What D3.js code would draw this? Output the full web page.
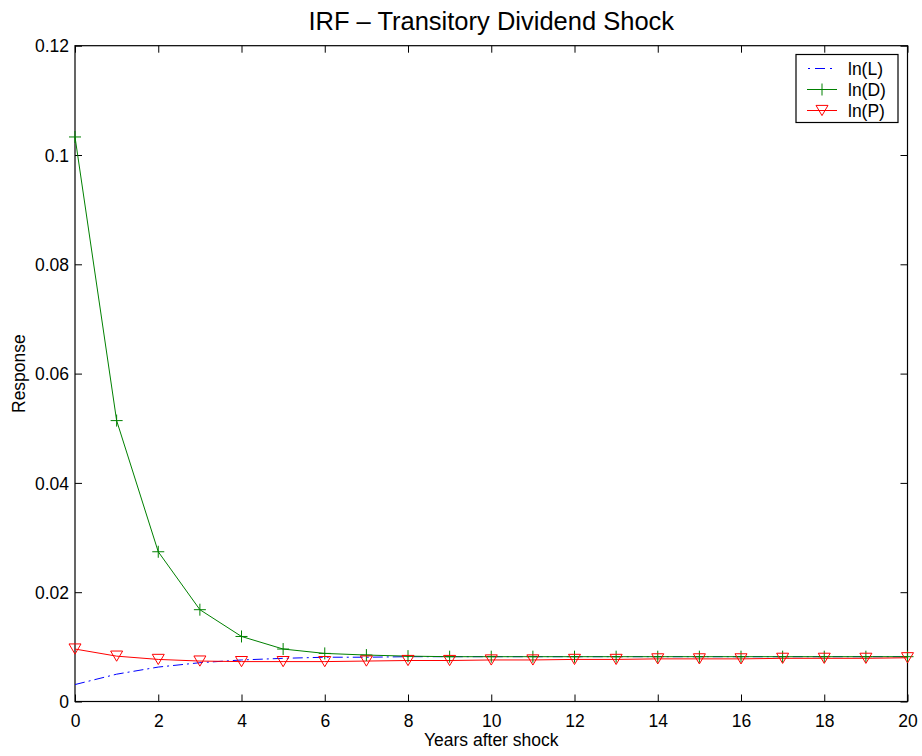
<!DOCTYPE html>
<html><head><meta charset="utf-8">
<script src="https://cdn.jsdelivr.net/npm/d3@7"></script>
<style>body{margin:0;background:#fff;} text{font-family:"Liberation Sans",Arial,sans-serif;}</style>
</head><body>
<svg id="chart" width="922" height="756"></svg>
<script>
const years = [0,1,2,3,4,5,6,7,8,9,10,11,12,13,14,15,16,17,18,19,20];
const lnL = [0.0031,0.0050,0.0063,0.0071,0.0076,0.0079,0.0081,0.0081,0.0082,0.0082,0.0082,0.0082,0.0082,0.0082,0.0082,0.0082,0.0082,0.0082,0.0082,0.0082,0.0082];
const lnD = [0.1033,0.0514,0.0274,0.0168,0.0119,0.0096,0.0088,0.0085,0.0083,0.0082,0.0082,0.0082,0.0082,0.0082,0.0082,0.0082,0.0082,0.0082,0.0082,0.0082,0.0082];
const lnP = [0.0096,0.0083,0.0077,0.0074,0.0073,0.0073,0.0073,0.0074,0.0075,0.0075,0.0076,0.0076,0.0077,0.0077,0.0078,0.0078,0.0078,0.0079,0.0079,0.0079,0.0080];
const xTicks = [0,2,4,6,8,10,12,14,16,18,20];
const yTicks = [0,0.02,0.04,0.06,0.08,0.1,0.12];
const yTickLabels = ["0","0.02","0.04","0.06","0.08","0.1","0.12"];
const seriesNames = ["ln(L)","ln(D)","ln(P)"];
const title = "IRF \u2013 Transitory Dividend Shock";
const xLabel = "Years after shock";
const yLabel = "Response";

const svg = d3.select("#chart");
const L = 75, R = 907.5, T = 45.7, B = 701.5;
const x = d3.scaleLinear().domain([0,20]).range([L,R]);
const y = d3.scaleLinear().domain([0,0.12]).range([B,T]);
const tk = 7;
const fs = 17.5;

// box
svg.append("rect").attr("x",L).attr("y",T).attr("width",R-L).attr("height",B-T)
  .attr("fill","none").attr("stroke","#000").attr("stroke-width",1.2);

// axes with inward ticks
const gx = svg.append("g").attr("transform",`translate(0,${B})`)
  .call(d3.axisBottom(x).tickValues(xTicks).tickSizeInner(-tk).tickSizeOuter(0).tickPadding(13));
const gxt = svg.append("g").attr("transform",`translate(0,${T})`)
  .call(d3.axisTop(x).tickValues(xTicks).tickSizeInner(-tk).tickSizeOuter(0).tickFormat(""));
const gy = svg.append("g").attr("transform",`translate(${L},0)`)
  .call(d3.axisLeft(y).tickValues(yTicks).tickSizeInner(-tk).tickSizeOuter(0).tickPadding(6)
    .tickFormat((d,i)=>yTickLabels[i]));
const gyr = svg.append("g").attr("transform",`translate(${R},0)`)
  .call(d3.axisRight(y).tickValues(yTicks).tickSizeInner(-tk).tickSizeOuter(0).tickFormat(""));
[gx,gxt,gy,gyr].forEach(g=>{
  g.select(".domain").remove();
  g.selectAll("line").attr("stroke","#000").attr("stroke-width",1);
  g.selectAll("text").attr("font-size",fs).attr("fill","#000")
    .style("font-family","'Liberation Sans',Arial,sans-serif");
});
gy.selectAll("text").attr("dy","0.35em");

// lines
const line = d3.line().x((d,i)=>x(years[i])).y(d=>y(d));
const plot = svg.append("g");
plot.append("path").datum(lnL).attr("d",line).attr("fill","none")
  .attr("stroke","#0000ff").attr("stroke-width",1).attr("stroke-dasharray","10,4,2,4");
plot.append("path").datum(lnD).attr("d",line).attr("fill","none")
  .attr("stroke","#008000").attr("stroke-width",1);
plot.append("path").datum(lnP).attr("d",line).attr("fill","none")
  .attr("stroke","#ff0000").attr("stroke-width",1);

const plusPath = (cx,cy,s)=>`M${cx-s},${cy}H${cx+s}M${cx},${cy-s}V${cy+s}`;
const triPath = (cx,cy,s)=>`M${cx-s},${cy-s*0.85}L${cx+s},${cy-s*0.85}L${cx},${cy+s*0.85}Z`;

plot.selectAll(".plusm").data(lnD).enter().append("path")
  .attr("d",(d,i)=>plusPath(x(years[i]),y(d),6))
  .attr("stroke","#008000").attr("stroke-width",1).attr("fill","none");
plot.selectAll(".trim").data(lnP).enter().append("path")
  .attr("d",(d,i)=>triPath(x(years[i]),y(d),6))
  .attr("stroke","#ff0000").attr("stroke-width",1).attr("fill","none");

// labels
svg.append("text").attr("x",(L+R)/2).attr("y",30).attr("text-anchor","middle")
  .attr("font-size",25.5).text(title);
svg.append("text").attr("x",(L+R)/2).attr("y",746).attr("text-anchor","middle")
  .attr("font-size",fs).text(xLabel);
svg.append("text").attr("transform",`translate(25,${(T+B)/2}) rotate(-90)`)
  .attr("text-anchor","middle").attr("font-size",fs).text(yLabel);

// legend
const lg = svg.append("g");
lg.append("rect").attr("x",796).attr("y",54.5).attr("width",102).attr("height",68)
  .attr("fill","#fff").attr("stroke","#000").attr("stroke-width",1.2);
const ly = [68.5,89.5,110.5];
const lcol = ["#0000ff","#008000","#ff0000"];
seriesNames.forEach((n,i)=>{
  const l = lg.append("line").attr("x1",807).attr("x2",837).attr("y1",ly[i]).attr("y2",ly[i])
    .attr("stroke",lcol[i]).attr("stroke-width",1);
  if(i===0) l.attr("stroke-dasharray","2,5,10,5").attr("stroke-dashoffset",-1);
  if(i===1) lg.append("path").attr("d",plusPath(822,ly[i],6)).attr("stroke",lcol[i]).attr("fill","none");
  if(i===2) lg.append("path").attr("d",triPath(822,ly[i],6)).attr("stroke",lcol[i]).attr("fill","none");
  lg.append("text").attr("x",848).attr("y",ly[i]).attr("dy","0.35em").attr("font-size",fs).text(n);
});
</script>
</body></html>
